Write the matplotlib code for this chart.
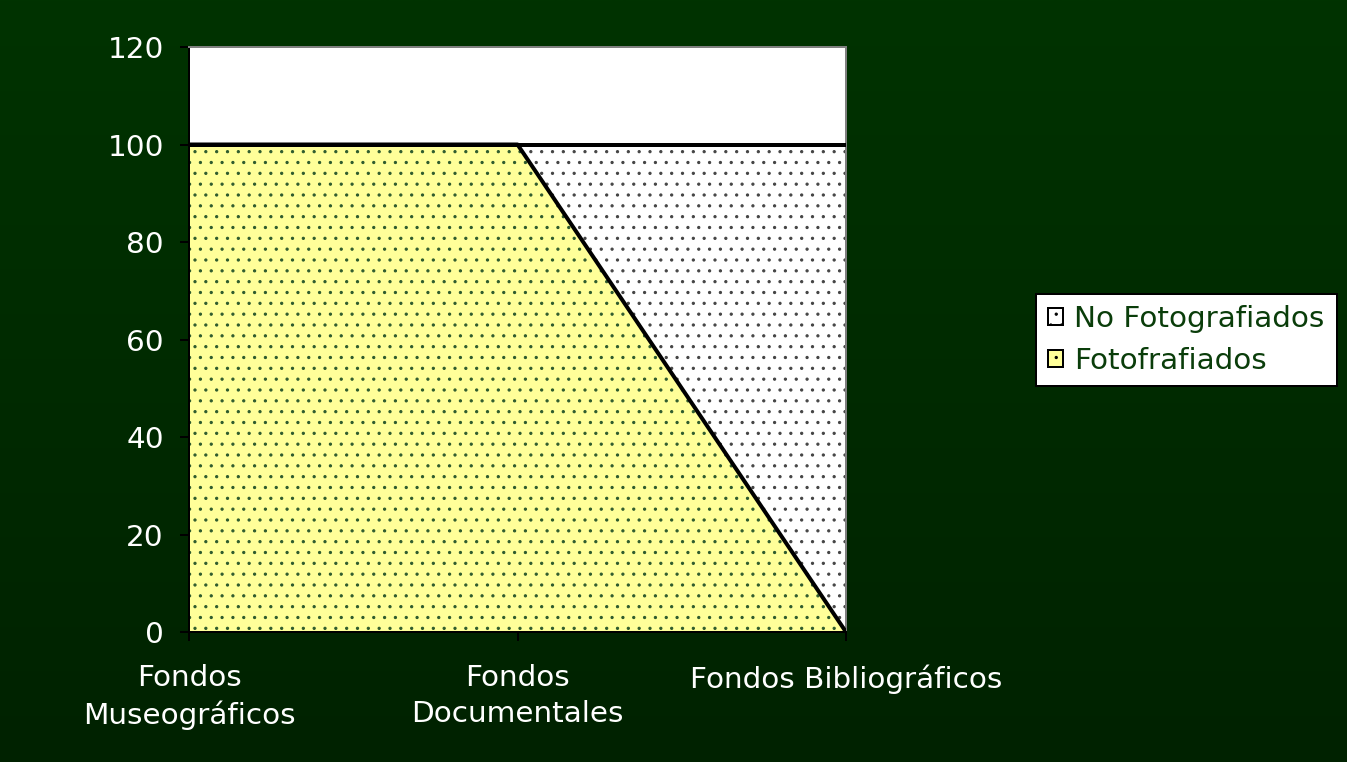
import numpy as np
import matplotlib.pyplot as plt
from matplotlib.patches import Patch

categories = ['Fondos\nMuseográficos', 'Fondos\nDocumentales', 'Fondos Bibliográficos']
fotografiados = [100, 100, 0]
no_fotografiados = [0, 0, 100]
yticks = [0, 20, 40, 60, 80, 100, 120]

DPI = 130
def px(p):
    # pixels -> points
    return p * 72.0 / DPI

fig = plt.figure(figsize=(1347 / DPI, 762 / DPI), dpi=DPI)

# background gradient
bg = fig.add_axes([0, 0, 1, 1], zorder=-10)
top = np.array([0x00, 0x33, 0x00]) / 255.0
bot = np.array([0x00, 0x22, 0x00]) / 255.0
t = np.linspace(0, 1, 256)[:, None]
grad = top[None, :] * (1 - t) + bot[None, :] * t
bg.imshow(grad[:, None, :].repeat(2, axis=1), aspect='auto', extent=[0, 1, 0, 1])
bg.set_axis_off()

ax = fig.add_axes([189 / 1347, 1 - 632 / 762, (846 - 189) / 1347, (632 - 47) / 762])
ax.set_facecolor('white')

x = np.arange(len(categories))
foto = np.array(fotografiados)
nofoto = np.array(no_fotografiados)
total = foto + nofoto

plt.rcParams['hatch.linewidth'] = 0.6
ax.fill_between(x, 0, foto, facecolor='#ffff99', edgecolor='#2d5a2d', hatch='..', linewidth=0)
ax.fill_between(x, foto, total, facecolor='white', edgecolor='#444444', hatch='..', linewidth=0)
ax.plot(x, foto, color='black', lw=px(4), solid_capstyle='butt', zorder=3)
ax.plot(x, total, color='black', lw=px(4), solid_capstyle='butt', zorder=3)

ax.set_xlim(0, len(categories) - 1)
ax.set_ylim(0, 120)
ax.set_yticks(yticks)
ax.set_xticks(x)
ax.set_xticklabels(categories)

for s in ['top', 'right']:
    ax.spines[s].set_color('#808080')
    ax.spines[s].set_linewidth(px(2))
for s in ['left', 'bottom']:
    ax.spines[s].set_color('black')
    ax.spines[s].set_linewidth(px(2))

fs = px(29.5)
ax.tick_params(axis='both', colors='black', direction='out', length=px(9), width=px(2),
               labelsize=fs, labelcolor='white')
ax.tick_params(axis='y', pad=px(16))
ax.tick_params(axis='x', pad=px(23))
for lab in ax.get_xticklabels():
    lab.set_linespacing(1.35)

handles = [Patch(facecolor='white', edgecolor='black', hatch='..', linewidth=px(2)),
           Patch(facecolor='#ffff99', edgecolor='black', hatch='..', linewidth=px(2))]
leg = fig.legend(handles, ['No Fotografiados', 'Fotofrafiados'], loc='center left',
                 bbox_to_anchor=(1036 / 1347, 1 - 340 / 762), fontsize=fs,
                 frameon=True, fancybox=False, edgecolor='black', facecolor='white',
                 framealpha=1, handlelength=0.5, handleheight=0.5, handletextpad=0.4,
                 borderpad=0.4, labelspacing=0.45, borderaxespad=0)
leg.get_frame().set_linewidth(px(2))
for txt in leg.get_texts():
    txt.set_color('#0a3d0a')

fig.savefig('out.png', dpi=DPI)
